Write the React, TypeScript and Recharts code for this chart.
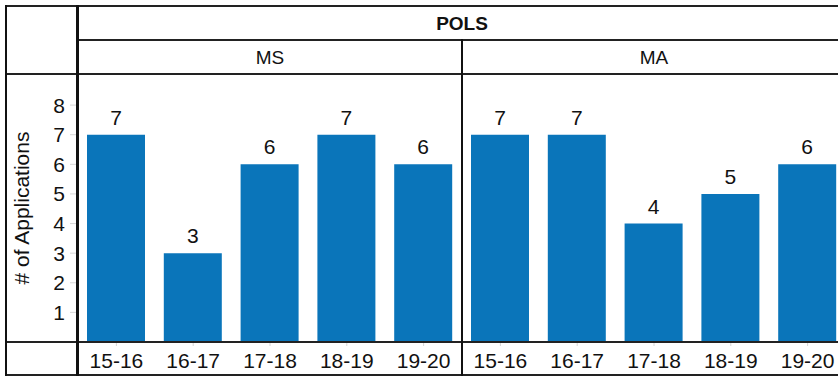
import React from 'react';
import { BarChart, Bar, XAxis, YAxis, LabelList } from 'recharts';

const years = ['15-16', '16-17', '17-18', '18-19', '19-20'];
const programs = ['MS', 'MA'];
const msApplications = [7, 3, 6, 7, 6];
const maApplications = [7, 7, 4, 5, 6];
const yTicks = [1, 2, 3, 4, 5, 6, 7, 8];

const seriesByProgram: Record<string, number[]> = { MS: msApplications, MA: maApplications };

// one row per program/year cell, key kept unique so the repeated years don't collapse
const rows = programs.flatMap((p) =>
  years.map((y, i) => ({ key: `${p}|${y}`, year: y, apps: seriesByProgram[p][i] }))
);

const FONT = 'Arial, "Liberation Sans", Helvetica, sans-serif';
const BLUE = '#0a75ba';
const INK = '#111';

// frame: header rows, left column and dividers (Tableau-like crosstab)
const hLine = (top: number, left: number, h = 2): React.CSSProperties => ({
  position: 'absolute', top, left, right: 0, height: h, background: '#222',
});
const vLine = (left: number, top: number, bottom: number, w = 2): React.CSSProperties => ({
  position: 'absolute', left, top, height: bottom - top, width: w, background: '#111',
});

export default function App() {
  return (
    <div style={{ position: 'absolute', left: 0, top: 0, width: 838, height: 377, overflow: 'hidden', background: '#fff', fontFamily: FONT }}>
      <BarChart
        width={846}
        height={377}
        data={rows}
        margin={{ top: 74, right: 0, bottom: 0, left: 0 }}
        style={{ position: 'absolute', left: 0, top: 0 }}
      >
        <XAxis
          dataKey="key"
          height={35}
          tickFormatter={(k: string) => k.split('|')[1]}
          interval={0}
          axisLine={false}
          tickSize={4}
          tickMargin={7}
          tickLine={{ stroke: '#d6d6d6' }}
          tick={{ fontSize: 21, fill: INK, fontFamily: FONT }}
        />
        <YAxis
          width={78}
          domain={[0, 9.05]}
          ticks={yTicks}
          interval={0}
          allowDecimals={false}
          axisLine={false}
          tickSize={8}
          tickMargin={5}
          tickLine={{ stroke: '#d6d6d6' }}
          tick={{ fontSize: 21, fill: INK, fontFamily: FONT }}
          label={{
            value: '# of Applications',
            angle: -90,
            position: 'insideLeft',
            offset: 22,
            style: { textAnchor: 'middle', fontSize: 21, fill: INK, fontFamily: FONT },
          }}
        />
        <Bar dataKey="apps" fill={BLUE} barSize={58} isAnimationActive={false}>
          <LabelList dataKey="apps" position="top" offset={10} style={{ fontSize: 21, fill: INK, fontFamily: FONT }} />
        </Bar>
      </BarChart>

      {/* header texts */}
      <div style={{ position: 'absolute', left: 78, width: 768, top: 7, height: 33, display: 'flex', alignItems: 'center', justifyContent: 'center', fontWeight: 'bold', fontSize: 19, color: INK }}>
        POLS
      </div>
      {programs.map((p, i) => (
        <div key={p} style={{ position: 'absolute', left: 78 + i * 384, width: 384, top: 41, height: 33, display: 'flex', alignItems: 'center', justifyContent: 'center', fontSize: 19, color: INK }}>
          {p}
        </div>
      ))}

      <div style={hLine(5, 5)} />
      <div style={hLine(39, 78)} />
      <div style={hLine(73, 5)} />
      <div style={hLine(341, 5)} />
      <div style={hLine(374, 5)} />
      <div style={vLine(5, 5, 376)} />
      <div style={vLine(76, 5, 376, 3)} />
      <div style={vLine(461, 39, 376)} />
    </div>
  );
}
